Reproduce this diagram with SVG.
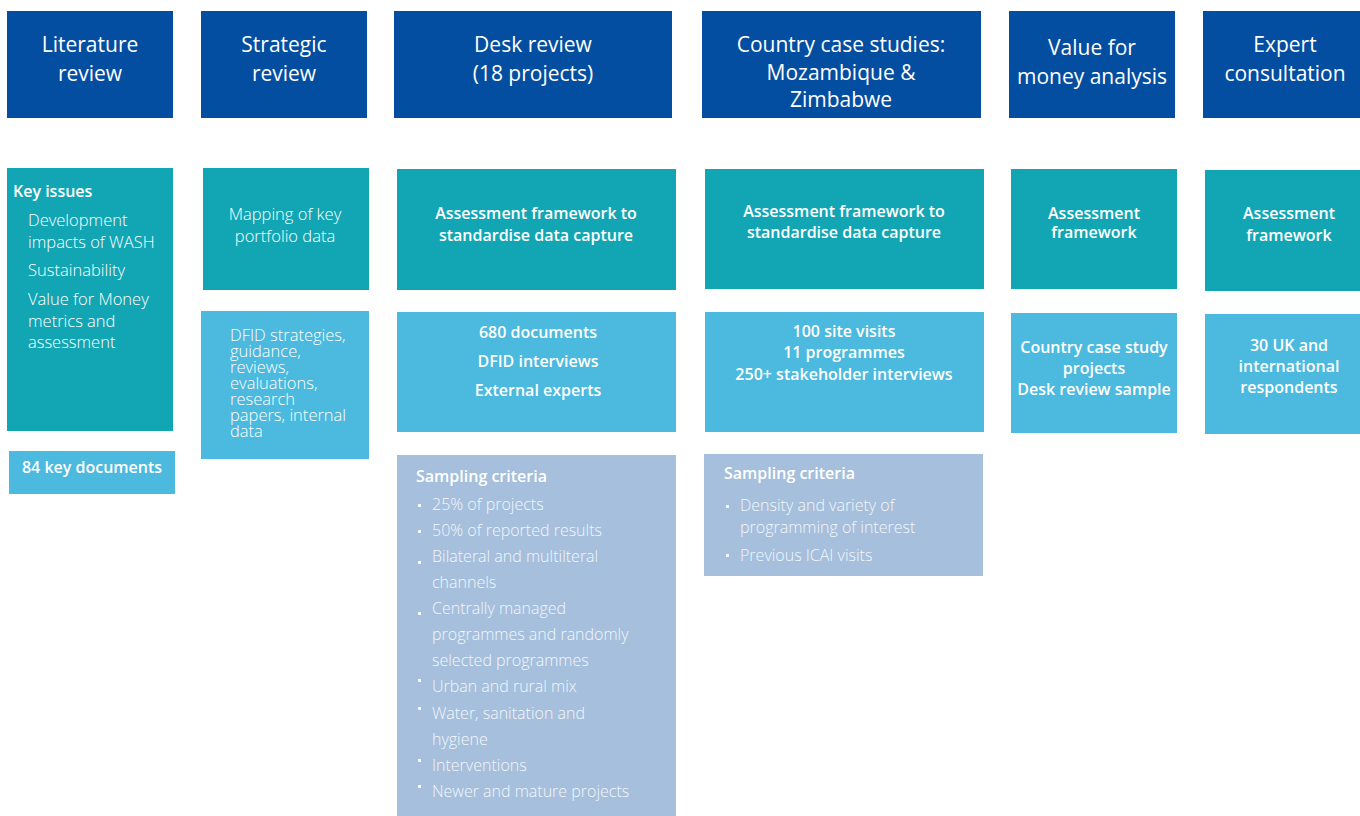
<svg xmlns="http://www.w3.org/2000/svg" width="1360" height="816" viewBox="0 0 1360 816">
<style>
.hdr{fill:#034EA0}
.teal{fill:#12A6B5}
.lb{fill:#4CB9DE}
.samp{fill:#A5BFDC}
text{font-family:"Open Sans","Noto Sans","Liberation Sans",sans-serif;fill:#FFFFFF}
.h{font-size:21px;text-anchor:middle}
.b{font-size:16px;font-weight:600}
.bc{font-size:16px;font-weight:600;text-anchor:middle}
.l{font-size:16.5px;font-weight:300}
.lc{font-size:16.5px;font-weight:300;text-anchor:middle}
.s{font-size:16px;font-weight:300;fill:#F4F7FB}
.bul{fill:#F4F7FB}
</style>
<rect width="1360" height="816" fill="#FFFFFF"/>

<g id="hdr-literature">
<rect class="hdr" x="7" y="11" width="166" height="107"/>
<text class="h" x="90" y="52">Literature</text>
<text class="h" x="90" y="81">review</text>
</g>
<g id="hdr-strategic">
<rect class="hdr" x="201" y="11" width="166" height="107"/>
<text class="h" x="284" y="52">Strategic</text>
<text class="h" x="284" y="81">review</text>
</g>
<g id="hdr-desk">
<rect class="hdr" x="394" y="11" width="278" height="107"/>
<text class="h" x="533" y="52">Desk review</text>
<text class="h" x="533" y="81">(18 projects)</text>
</g>
<g id="hdr-country">
<rect class="hdr" x="702" y="11" width="279" height="107"/>
<text class="h" x="841" y="52">Country case studies:</text>
<text class="h" x="841" y="80">Mozambique &amp;</text>
<text class="h" x="841" y="107">Zimbabwe</text>
</g>
<g id="hdr-vfm">
<rect class="hdr" x="1009" y="11" width="166" height="107"/>
<text class="h" x="1092" y="55">Value for</text>
<text class="h" x="1092" y="84">money analysis</text>
</g>
<g id="hdr-expert">
<rect class="hdr" x="1203" y="11" width="157" height="107"/>
<text class="h" x="1285" y="52">Expert</text>
<text class="h" x="1285" y="81">consultation</text>
</g>

<g id="lit-key-issues">
<rect class="teal" x="7" y="168" width="166" height="263"/>
<text class="b" x="13" y="197">Key issues</text>
<text class="l" x="28" y="226">Development</text>
<text class="l" x="28" y="248">impacts of WASH</text>
<text class="l" x="28" y="276">Sustainability</text>
<text class="l" x="28" y="305">Value for Money</text>
<text class="l" x="28" y="327">metrics and</text>
<text class="l" x="28" y="348">assessment</text>
</g>
<g id="lit-documents">
<rect class="lb" x="9" y="451" width="166" height="43"/>
<text class="bc" x="92" y="473">84 key documents</text>
</g>

<g id="strat-mapping">
<rect class="teal" x="203" y="168" width="166" height="122"/>
<text class="lc" x="285" y="220">Mapping of key</text>
<text class="lc" x="285" y="242">portfolio data</text>
</g>
<g id="strat-sources">
<rect class="lb" x="201" y="311" width="168" height="148"/>
<text class="l" x="230" y="341">DFID strategies,</text>
<text class="l" x="230" y="357">guidance,</text>
<text class="l" x="230" y="373">reviews,</text>
<text class="l" x="230" y="389">evaluations,</text>
<text class="l" x="230" y="405">research</text>
<text class="l" x="230" y="421">papers, internal</text>
<text class="l" x="230" y="437">data</text>
</g>

<g id="desk-framework">
<rect class="teal" x="397" y="169" width="279" height="121"/>
<text class="bc" x="536" y="219">Assessment framework to</text>
<text class="bc" x="536" y="241">standardise data capture</text>
</g>
<g id="desk-evidence">
<rect class="lb" x="397" y="312" width="279" height="120"/>
<text class="bc" x="538" y="338">680 documents</text>
<text class="bc" x="538" y="367">DFID interviews</text>
<text class="bc" x="538" y="396">External experts</text>
</g>
<g id="desk-sampling">
<rect class="samp" x="397" y="455" width="279" height="361"/>
<text class="b" x="416" y="482">Sampling criteria</text>
<rect class="bul" x="418" y="504" width="3" height="3"/>
<text class="s" x="432" y="510">25% of projects</text>
<rect class="bul" x="418" y="530" width="3" height="3"/>
<text class="s" x="432" y="536">50% of reported results</text>
<rect class="bul" x="418" y="561" width="3" height="3"/>
<text class="s" x="432" y="562">Bilateral and multilteral</text>
<text class="s" x="432" y="588">channels</text>
<rect class="bul" x="418" y="612" width="3" height="3"/>
<text class="s" x="432" y="614">Centrally managed</text>
<text class="s" x="432" y="640">programmes and randomly</text>
<text class="s" x="432" y="666">selected programmes</text>
<rect class="bul" x="418" y="679" width="3" height="3"/>
<text class="s" x="432" y="692">Urban and rural mix</text>
<rect class="bul" x="418" y="707" width="3" height="3"/>
<text class="s" x="432" y="719">Water, sanitation and</text>
<text class="s" x="432" y="745">hygiene</text>
<rect class="bul" x="418" y="759" width="3" height="3"/>
<text class="s" x="432" y="771">Interventions</text>
<rect class="bul" x="418" y="785" width="3" height="3"/>
<text class="s" x="432" y="797">Newer and mature projects</text>
</g>

<g id="country-framework">
<rect class="teal" x="705" y="169" width="279" height="120"/>
<text class="bc" x="844" y="217">Assessment framework to</text>
<text class="bc" x="844" y="238">standardise data capture</text>
</g>
<g id="country-evidence">
<rect class="lb" x="705" y="312" width="279" height="120"/>
<text class="bc" x="844" y="337">100 site visits</text>
<text class="bc" x="844" y="358">11 programmes</text>
<text class="bc" x="844" y="380">250+ stakeholder interviews</text>
</g>
<g id="country-sampling">
<rect class="samp" x="704" y="454" width="279" height="122"/>
<text class="b" x="724" y="479">Sampling criteria</text>
<rect class="bul" x="726" y="505" width="3" height="3"/>
<text class="s" x="740" y="511">Density and variety of</text>
<text class="s" x="740" y="533">programming of interest</text>
<rect class="bul" x="726" y="554" width="3" height="3"/>
<text class="s" x="740" y="561">Previous ICAI visits</text>
</g>

<g id="vfm-framework">
<rect class="teal" x="1011" y="169" width="166" height="120"/>
<text class="bc" x="1094" y="219">Assessment</text>
<text class="bc" x="1094" y="238">framework</text>
</g>
<g id="vfm-evidence">
<rect class="lb" x="1011" y="313" width="166" height="120"/>
<text class="bc" x="1094" y="353">Country case study</text>
<text class="bc" x="1094" y="374">projects</text>
<text class="bc" x="1094" y="395">Desk review sample</text>
</g>

<g id="expert-framework">
<rect class="teal" x="1205" y="170" width="155" height="121"/>
<text class="bc" x="1289" y="219">Assessment</text>
<text class="bc" x="1289" y="241">framework</text>
</g>
<g id="expert-evidence">
<rect class="lb" x="1205" y="314" width="155" height="120"/>
<text class="bc" x="1289" y="351">30 UK and</text>
<text class="bc" x="1289" y="372">international</text>
<text class="bc" x="1289" y="393">respondents</text>
</g>

<g id="connectors"/>
</svg>
